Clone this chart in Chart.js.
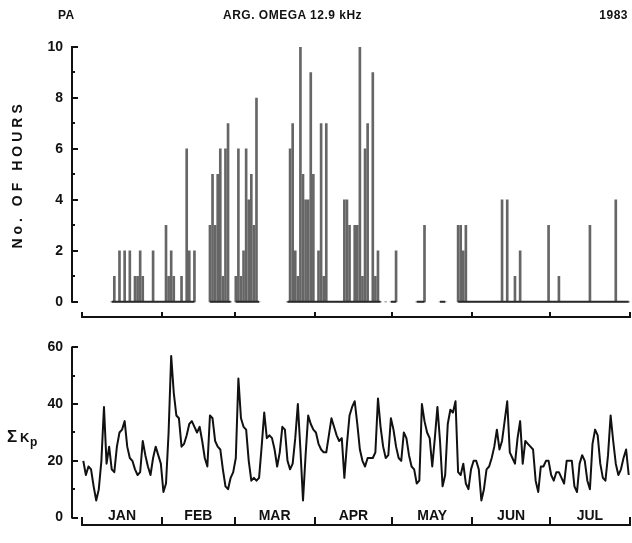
<!DOCTYPE html>
<html>
<head>
    <meta charset="UTF-8">
    <title>PA - ARG. OMEGA 12.9 kHz - 1983</title>
    <style>
        body { margin: 0; background: #fff; }
        #wrap { position: relative; width: 632px; height: 543px; font-family: "Liberation Sans", Arial, sans-serif; color: #111; }
        .hdr { position: absolute; top: 8px; font-size: 12px; font-weight: bold; letter-spacing: 0.5px; white-space: nowrap; }
        canvas { position: absolute; left: 0; }
        #hoursChart { top: 0; }
        #kpChart { top: 330px; }
    </style>
    <script src="https://cdn.jsdelivr.net/npm/chart.js@4.4.1/dist/chart.umd.min.js"></script>
</head>
<body>
<div id="wrap">
    <canvas id="hoursChart" width="632" height="335"></canvas>
    <canvas id="kpChart" width="632" height="213"></canvas>
    <div class="hdr" style="left:58px">PA</div>
    <div class="hdr" style="left:223px">ARG. OMEGA 12.9 kHz</div>
    <div class="hdr" style="right:4px">1983</div>
</div>

<script>
    const monthNames = ["JAN", "FEB", "MAR", "APR", "MAY", "JUN", "JUL"];
    const monthDays = [31, 28, 31, 30, 31, 30, 31];
    const hourTicks = [0, 2, 4, 6, 8, 10];
    const kpTicks = [0, 20, 40, 60];

    // No. of hours per day, null = no record that day
    const hrsJan = [null,null,null,null,null,null,null,null,null,null,null, 0,1,0,2,0,2,0,2,0,1, 1,2,1,0,0,0,2,0,0,0];
    const hrsFeb = [0,3,1,2,1,0,0,1,0,6, 2,0,2,null,null,null,null,null,3,5, 3,5,6,1,6,7,0,null];
    const hrsMar = [1,6,1,2,6,4,5,3,8,0, null,null,null,null,null,null,null,null,null,null, 0,6,7,2,1,10,5,4,4,9,5];
    const hrsApr = [0,2,7,1,7,0,0,0,0,0, 0,4,4,3,0,3,3,10,1,6, 7,0,9,1,2,0,null,0,null,0];
    const hrsMay = [0,2,null,null,null,null,null,null,null,0, 0,0,3,null,null,null,null,null,0,0, 0,null,null,null,null,3,3,2,3,0, 0];
    const hrsJun = [0,0,0,0,0,0,0,0,0,0, 0,4,0,4,0,0,1,0,2,0, 0,0,0,0,0,0,0,0,0,3];
    const hrsJul = [0,0,0,1,0,0,0,0,0,0, 0,0,0,0,0,3,0,0,0,0, 0,0,0,0,0,4,0,0,0,0, 0];

    // daily sum Kp
    const kpJan = [20,15,18,17,11,6,10,20,39,19, 25,17,16,25,30,31,34,25,21,20, 17,15,16,27,22,18,15,21,25,22, 19];
    const kpFeb = [9,12,30,57,44,36,35,25,26,29, 33,34,32,30,32,27,21,18,36,35, 27,25,24,17,11,10,14,16];
    const kpMar = [21,49,35,32,31,20,13,14,13,14, 25,37,28,29,28,24,18,23,32,31, 20,17,19,28,40,24,6,22,36,33, 31];
    const kpApr = [30,26,24,23,23,29,35,32,29,27, 28,14,26,36,39,41,33,24,20,18, 21,21,21,23,42,32,25,21,22,35];
    const kpMay = [31,25,21,20,30,28,22,18,17,12, 13,40,34,30,28,18,28,39,27,11, 15,33,38,37,41,16,15,19,12,10, 17];
    const kpJun = [20,20,17,6,10,17,18,21,25,31, 24,27,34,41,23,21,19,28,34,19, 27,26,25,24,13,9,18,18,20,20];
    const kpJul = [15,13,16,16,14,12,20,20,20,11, 9,19,22,20,13,10,26,31,29,19, 14,13,22,36,27,19,15,17,21,24, 15];

    const hours = [].concat(hrsJan, hrsFeb, hrsMar, hrsApr, hrsMay, hrsJun, hrsJul);
    const kp = [].concat(kpJan, kpFeb, kpMar, kpApr, kpMay, kpJun, kpJul);
    const totalDays = monthDays.reduce((a, b) => a + b, 0);

    const bounds = [0];
    monthDays.forEach(d => bounds.push(bounds[bounds.length - 1] + d));

    const FONT = '"Liberation Sans", Arial, sans-serif';
    Chart.defaults.font.family = FONT;
    Chart.defaults.color = "#111";

    // axes drawn like the original: y axis and x axis apart from each other
    function frame(opt) {
        return {
            id: "frame",
            afterDraw(chart) {
                const { ctx, chartArea: a, scales: { x, y } } = chart;
                ctx.save();
                ctx.strokeStyle = "#111";
                ctx.fillStyle = "#111";
                ctx.lineWidth = 2;

                ctx.beginPath();
                ctx.moveTo(a.left, y.getPixelForValue(opt.yMax) - 1);
                ctx.lineTo(a.left, y.getPixelForValue(0) + 1);
                for (let v = 0; v <= opt.yMax; v += opt.minor) {
                    const py = Math.round(y.getPixelForValue(v));
                    const len = v % opt.major === 0 ? 6 : 3;
                    ctx.moveTo(a.left, py);
                    ctx.lineTo(a.left + len, py);
                }
                ctx.stroke();

                const yb = Math.round(a.bottom) - 1;
                ctx.beginPath();
                ctx.moveTo(x.getPixelForValue(0) - 1, yb);
                ctx.lineTo(x.getPixelForValue(totalDays) + 1, yb);
                bounds.forEach(b => {
                    const px = Math.round(x.getPixelForValue(b));
                    ctx.moveTo(px, yb);
                    ctx.lineTo(px, yb - opt.xTick);
                });
                ctx.stroke();

                if (opt.months) {
                    ctx.font = "bold 14px " + FONT;
                    ctx.textAlign = "center";
                    ctx.textBaseline = "alphabetic";
                    monthNames.forEach((m, i) => {
                        const mid = (bounds[i] + bounds[i + 1]) / 2;
                        ctx.fillText(m, x.getPixelForValue(mid), yb - 5);
                    });
                }

                const cy = (y.getPixelForValue(0) + y.getPixelForValue(opt.yMax)) / 2;
                if (opt.title) {
                    ctx.save();
                    ctx.translate(opt.titleX, cy);
                    ctx.rotate(-Math.PI / 2);
                    ctx.font = "bold 14px " + FONT;
                    ctx.letterSpacing = "4px";
                    ctx.textAlign = "center";
                    ctx.textBaseline = "middle";
                    ctx.fillText(opt.title, 0, 0);
                    ctx.restore();
                }
                if (opt.kpTitle) {
                    ctx.textAlign = "left";
                    ctx.textBaseline = "alphabetic";
                    ctx.font = "bold 17px " + FONT;
                    ctx.fillText("Σ", 7, cy + 10);
                    ctx.font = "bold 13px " + FONT;
                    ctx.fillText("K", 20, cy + 10);
                    ctx.font = "bold 12px " + FONT;
                    ctx.fillText("p", 30, cy + 14);
                }
                ctx.restore();
            }
        };
    }

    function xScale() {
        return {
            type: "linear", min: -3.87, max: totalDays, offset: false,
            grid: { display: false, drawTicks: false }, border: { display: false },
            ticks: { display: false },
            afterFit: s => { s.height = 0; }
        };
    }

    function yScale(min, max, tickVals) {
        return {
            min: min, max: max,
            grid: { display: false, drawTicks: false }, border: { display: false },
            afterBuildTicks: s => { s.ticks = tickVals.map(v => ({ value: v })); },
            ticks: { color: "#111", padding: 9, font: { size: 14, weight: "bold" } },
            afterFit: s => { s.width = 72; }
        };
    }

    new Chart(document.getElementById("hoursChart"), {
        type: "bar",
        data: {
            datasets: [
                {
                    type: "line", order: 0,
                    data: hours.map((v, i) => ({ x: i + 0.5, y: v === null ? null : 0 })),
                    borderColor: "#2a2a2a", borderWidth: 2, pointRadius: 0, spanGaps: false
                },
                {
                    order: 1,
                    data: hours.map((v, i) => ({ x: i + 0.5, y: v })),
                    backgroundColor: "#666", borderWidth: 0, barThickness: 2
                }
            ]
        },
        options: {
            responsive: false, animation: false, events: [],
            layout: { padding: { top: 47, right: 2, bottom: 13, left: 0 } },
            plugins: { legend: { display: false }, tooltip: { enabled: false } },
            scales: { x: xScale(), y: yScale(-0.618, 10, hourTicks) }
        },
        plugins: [frame({ yMax: 10, major: 2, minor: 1, xTick: 5, title: "No. OF HOURS", titleX: 18 })]
    });

    new Chart(document.getElementById("kpChart"), {
        type: "line",
        data: {
            datasets: [{
                data: kp.map((v, i) => ({ x: i + 0.5, y: v })),
                borderColor: "#111", borderWidth: 2, pointRadius: 0,
                tension: 0, borderJoinStyle: "round"
            }]
        },
        options: {
            responsive: false, animation: false, events: [],
            layout: { padding: { top: 11, right: 2, bottom: 3, left: 0 } },
            plugins: { legend: { display: false }, tooltip: { enabled: false } },
            scales: { x: xScale(), y: yScale(-2.842, 60, kpTicks) }
        },
        plugins: [frame({ yMax: 60, major: 20, minor: 10, xTick: 8, months: true, kpTitle: true })]
    });
</script>
</body>
</html>
